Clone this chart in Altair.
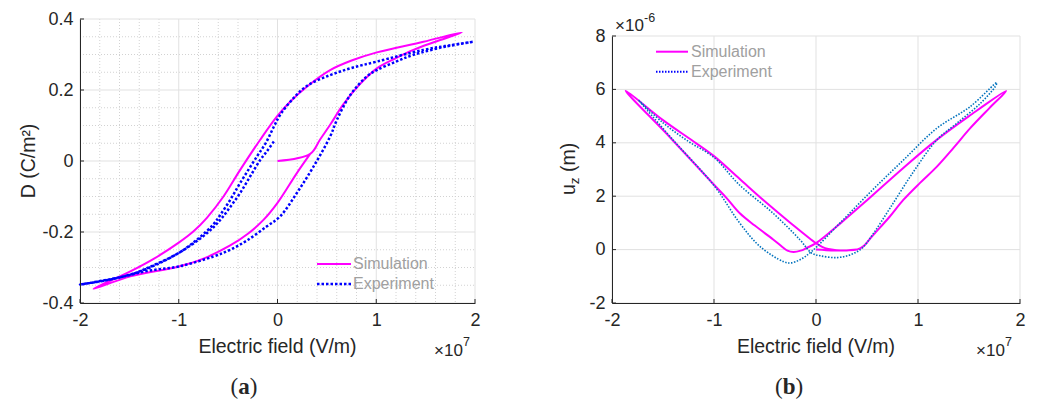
import altair as alt
import pandas as pd

# ---------------- data (E in 1e7 V/m) ----------------
# (a) D vs E
sim_a_E = [0.0, 0.331, 0.43, 0.533, 0.668, 0.83, 1.006, 1.2, 1.376, 1.6, 1.866,
           1.478, 1.006, 0.75, 0.533, 0.3, 0.128, -0.007, -0.175, -0.378, -0.547, -0.715, -0.85, -1.0, -1.25, -1.49, -1.862,
           -1.49, -1.0, -0.75, -0.479, -0.3, -0.142, 0.0, 0.196, 0.331]
sim_a_D = [0.0, 0.02, 0.06, 0.102, 0.16, 0.215, 0.261, 0.29, 0.313, 0.336, 0.362,
           0.336, 0.306, 0.283, 0.256, 0.21, 0.167, 0.125, 0.06, -0.025, -0.1, -0.16, -0.198, -0.23, -0.275, -0.311, -0.36,
           -0.325, -0.297, -0.275, -0.238, -0.205, -0.166, -0.118, -0.034, 0.02]
exp_a_E = [-0.037, -0.1, -0.175, -0.28, -0.378, -0.48, -0.58, -0.7, -0.85, -1.0, -1.25, -1.49, -1.75, -2.0,
           -1.66, -1.322, -1.0, -0.648, -0.479, -0.31, -0.108, 0.027, 0.196, 0.364, 0.533, 0.6, 0.735, 0.904, 1.006, 1.2, 1.376, 1.7, 1.984,
           1.75, 1.478, 1.006, 0.75, 0.533, 0.3, 0.162, 0.027, -0.04, -0.12, -0.208, -0.378, -0.48, -0.58, -0.648, -0.8, -1.0, -1.25, -1.49, -2.0]
exp_a_D = [0.055, 0.03, 0.003, -0.045, -0.09, -0.13, -0.166, -0.2, -0.232, -0.259, -0.295, -0.32, -0.337, -0.348,
           -0.332, -0.31, -0.297, -0.269, -0.25, -0.224, -0.184, -0.156, -0.09, -0.016, 0.069, 0.115, 0.185, 0.238, 0.256, 0.28, 0.299, 0.322, 0.336,
           0.326, 0.313, 0.28, 0.262, 0.242, 0.212, 0.177, 0.13, 0.095, 0.05, 0.013, -0.062, -0.11, -0.152, -0.178, -0.218, -0.259, -0.293, -0.32, -0.348]

# (b) u_z (1e-6 m) vs E
sim_b_E = [0.0, 0.1, 0.2, 0.3, 0.4, 0.46, 0.55, 0.724, 0.856, 1.02, 1.183, 1.35, 1.51, 1.7, 1.864,
           1.5, 1.18, 0.853, 0.5, 0.25, 0.0, -0.092, -0.15, -0.22, -0.28, -0.33, -0.42, -0.6, -0.747, -0.874, -1.0, -1.43, -1.866,
           -1.5, -1.2, -1.0, -0.75, -0.5, -0.25, 0.0, 0.06, 0.12, 0.2, 0.3, 0.4]
sim_b_U = [0.0, -0.02, -0.03, -0.03, 0.0, 0.11, 0.5, 1.24, 1.86, 2.5, 3.1, 3.82, 4.54, 5.3, 5.94,
           5.0, 4.1, 3.05, 1.85, 1.02, 0.24, 0.06, -0.04, -0.09, -0.04, 0.1, 0.38, 0.9, 1.36, 1.92, 2.43, 4.2, 5.95,
           4.85, 4.05, 3.5, 2.65, 1.8, 1.0, 0.24, 0.1, 0.02, -0.02, -0.03, 0.0]
exp_b_E = [-1.74, -1.5, -1.25, -1.0, -0.75, -0.42, -0.158, -0.043, 0.04, 0.2, 0.333, 0.45, 0.562, 0.725, 0.953, 1.183, 1.38, 1.61, 1.756, 1.772,
           1.51, 1.183, 0.856, 0.545, 0.234, -0.043, -0.158, -0.25, -0.32, -0.55, -0.747, -1.0, -1.4, -1.74]
exp_b_U = [5.6, 4.75, 4.05, 3.45, 2.42, 1.36, 0.37, -0.13, -0.23, -0.3, -0.2, 0.05, 0.6, 1.55, 2.9, 4.1, 4.73, 5.47, 6.1, 6.25,
           5.35, 4.54, 3.35, 2.2, 0.99, -0.07, -0.38, -0.5, -0.45, 0.12, 0.99, 2.4, 4.1, 5.6]

x_ticks = [-2, -1, 0, 1, 2]
y_ticks_a = [-0.4, -0.2, 0, 0.2, 0.4]
y_ticks_b = [-2, 0, 2, 4, 6, 8]
x_minor_a = [-1.8, -1.6, -1.4, -1.2, -0.8, -0.6, -0.4, -0.2, 0.2, 0.4, 0.6, 0.8, 1.2, 1.4, 1.6, 1.8]
y_minor_a = [-0.35, -0.3, -0.25, -0.15, -0.1, -0.05, 0.05, 0.1, 0.15, 0.25, 0.3, 0.35]
legend_labels = ["Simulation", "Experiment"]

# ---------------- styling ----------------
W_A, W_B, H = 395, 408, 284
TOP_B = 17
AX = '#262626'
GRID = '#e1e1e1'
MINOR = '#d2d2d2'
FONT = 'Liberation Sans'
SERIF = 'Liberation Serif'
MAGENTA = '#ff00ff'
BLUE = '#0000ff'
MBLUE = '#0072bd'
LEG = '#a0a0a0'
INTERP = 'catmull-rom'
TICKFONT = 18


def xs():
    return alt.Scale(domain=[-2, 2], nice=False, zero=False)


def ys_a():
    return alt.Scale(domain=[-0.4, 0.4], nice=False, zero=False)


def ys_b():
    return alt.Scale(domain=[-2, 8], nice=False, zero=False, range=[H, TOP_B])


def axis_x():
    return alt.Axis(values=x_ticks, title=None, ticks=False, grid=False, domainColor=AX,
                    domainWidth=1, labelColor=AX, labelFont=FONT, labelFontSize=TICKFONT,
                    labelPadding=8, labelExpr="'' + datum.value", labelFlush=False,
                    labelOverlap=False, zindex=1)


def axis_y(vals):
    return alt.Axis(values=vals, title=None, ticks=False, grid=False, domainColor=AX,
                    domainWidth=1, labelColor=AX, labelFont=FONT, labelFontSize=TICKFONT,
                    labelPadding=7, labelExpr="'' + datum.value", labelFlush=False,
                    labelOverlap=False, zindex=1)


def vrules(vals, y1, y2, color, dash=None, width=1):
    mk = dict(color=color, strokeWidth=width)
    if dash:
        mk['strokeDash'] = dash
    return alt.Chart(pd.DataFrame({'v': vals})).mark_rule(**mk).encode(
        x=alt.X('v:Q', scale=xs(), axis=axis_x()), y=alt.value(y1), y2=alt.value(y2))


def hrules(vals, yscale, yvals, x1, x2, color, dash=None, width=1):
    mk = dict(color=color, strokeWidth=width)
    if dash:
        mk['strokeDash'] = dash
    return alt.Chart(pd.DataFrame({'v': vals})).mark_rule(**mk).encode(
        y=alt.Y('v:Q', scale=yscale, axis=axis_y(yvals)), x=alt.value(x1), x2=alt.value(x2))


def series(E, V, yscale, yvals, color, width, dash=None):
    d = pd.DataFrame({'E': E, 'V': V, 'i': list(range(len(E)))})
    mk = dict(color=color, strokeWidth=width, interpolate=INTERP)
    if dash:
        mk['strokeDash'] = dash
    return alt.Chart(d).mark_line(**mk).encode(
        x=alt.X('E:Q', scale=xs(), axis=axis_x()),
        y=alt.Y('V:Q', scale=yscale, axis=axis_y(yvals)),
        order='i:Q')


def text(t, x, y, size=17, color=AX, font=FONT, align='left', baseline='alphabetic',
         angle=0, weight='normal'):
    return alt.Chart(pd.DataFrame({'t': [t]})).mark_text(
        align=align, baseline=baseline, fontSize=size, font=font, color=color,
        angle=angle, fontWeight=weight).encode(x=alt.value(x), y=alt.value(y), text='t:N')


def seg(x1, x2, y, color, width, dash=None, opacity=1):
    mk = dict(color=color, strokeWidth=width, opacity=opacity)
    if dash:
        mk['strokeDash'] = dash
    return alt.Chart(pd.DataFrame({'a': [0]})).mark_rule(**mk).encode(
        x=alt.value(x1), x2=alt.value(x2), y=alt.value(y))


# ---------------- panel (a) ----------------
panel_a = alt.layer(
    seg(-72, -72, -11, '#ffffff', 1, opacity=0),          # layout anchor
    vrules(x_minor_a, 0, H, MINOR, dash=[1, 2]),
    hrules(y_minor_a, ys_a(), y_ticks_a, 0, W_A, MINOR, dash=[1, 2]),
    vrules(x_ticks, 0, H, GRID),
    hrules(y_ticks_a, ys_a(), y_ticks_a, 0, W_A, GRID),
    series(sim_a_E, sim_a_D, ys_a(), y_ticks_a, MAGENTA, 2),
    series(exp_a_E, exp_a_D, ys_a(), y_ticks_a, BLUE, 2.5, dash=[2.5, 2]),
    vrules(x_ticks, H, H - 4, AX),
    hrules(y_ticks_a, ys_a(), y_ticks_a, 0, 4, AX),
    seg(237, 271, 245, MAGENTA, 2),
    seg(237, 271, 265, BLUE, 2.5, dash=[2.5, 2]),
    text(legend_labels[0], 273, 245, size=16, color=LEG, baseline='middle'),
    text(legend_labels[1], 273, 265, size=16, color=LEG, baseline='middle'),
    text("D (C/m²)", -45, 142, size=19.5, align='center', angle=270),
    text("Electric field (V/m)", 197.5, 334, size=19.5, align='center'),
    text("×10", 354, 337, size=17),
    text("7", 383, 327, size=12.5),
    text("(", 150.5, 375, size=23, font=SERIF),
    text("a", 158.2, 375, size=23, font=SERIF, weight='bold'),
    text(")", 169.8, 375, size=23, font=SERIF),
).properties(width=W_A, height=H)

# ---------------- panel (b) ----------------
panel_b = alt.layer(
    vrules(x_ticks, TOP_B, H, GRID),
    hrules(y_ticks_b, ys_b(), y_ticks_b, 0, W_B, GRID),
    series(sim_b_E, sim_b_U, ys_b(), y_ticks_b, MAGENTA, 2),
    series(exp_b_E, exp_b_U, ys_b(), y_ticks_b, MBLUE, 1.6, dash=[1.5, 1.5]),
    vrules(x_ticks, H, H - 4, AX),
    hrules(y_ticks_b, ys_b(), y_ticks_b, 0, 4, AX),
    seg(44, 76, 32.7, MAGENTA, 2),
    seg(44, 76, 52.7, BLUE, 2, dash=[1.5, 1.5]),
    text(legend_labels[0], 79, 32.7, size=16, color=LEG, baseline='middle'),
    text(legend_labels[1], 79, 52.7, size=16, color=LEG, baseline='middle'),
    text("u", -37, 176, size=19.5, angle=270),
    text("z", -33, 165.2, size=13.5, angle=270),
    text("(m)", -37, 153, size=19.5, angle=270),
    text("Electric field (V/m)", 204, 334, size=19.5, align='center'),
    text("×10", 364, 337, size=17),
    text("7", 393, 327, size=12.5),
    text("×10", 3, 12, size=17),
    text("-6", 32, 3, size=12.5),
    text("(", 163, 375, size=23, font=SERIF),
    text("b", 170.7, 375, size=23, font=SERIF, weight='bold'),
    text(")", 183.5, 375, size=23, font=SERIF),
).properties(width=W_B, height=H)

chart = alt.hconcat(panel_a, panel_b, spacing=137, bounds='flush').properties(
    padding=0
).configure_view(stroke=None)

chart.save("out.html", embed_options={"renderer": "svg", "actions": False})
